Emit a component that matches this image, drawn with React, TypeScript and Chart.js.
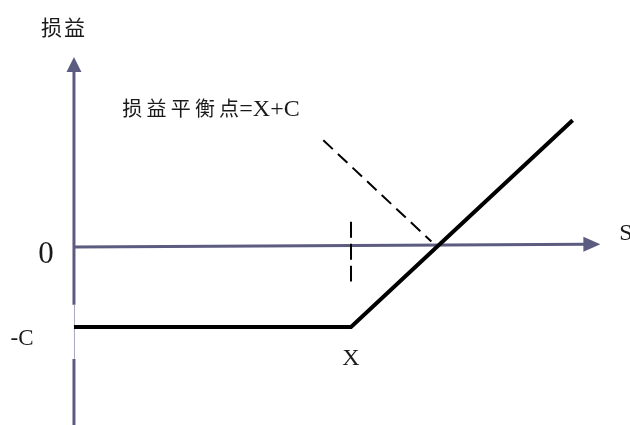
import React, { useEffect, useRef } from "react";
import { Chart, registerables } from "chart.js";

Chart.register(...registerables);

// ---- data (S = underlying price, PL = profit/loss) ----
const payoffS = [0, 100, 180];
const payoffPL = [-30, -30, 47.5];

const strikeMarkerS = [100, 100];
const strikeMarkerPL = [9.4, -13];

const pointerS = [90, 129];
const pointerPL = [40, 2];

const yTickValues = [0, -30];
const yTickLabels = ["0", "-C"];
const xTickValues = [100];
const xTickLabels = ["X"];

const xAxisTitle = "S";
const yAxisTitle = "损益";
const breakevenCJK = "损益平衡点";
const breakevenFormula = "=X+C";

// axis extents (data units)
const xAxisEnd = 190;
const yAxisTop = 71.2;
const yAxisGap = [-21.7, -42];

const AXIS_COLOR = "#5C5B80";
const TEXT_COLOR = "#1a1a1a";
const SERIF = "'Liberation Serif', 'Times New Roman', serif";
const CJK = "'Noto Sans CJK SC', sans-serif";

const toPts = (xs: number[], ys: number[]) => xs.map((x, i) => ({ x, y: ys[i] }));

const axesPlugin = {
  id: "payoffAxes",
  beforeDatasetsDraw(chart: any) {
    const { ctx, scales } = chart;
    const xs = scales.x;
    const ys = scales.y;
    const ox = xs.getPixelForValue(0);
    const oy = ys.getPixelForValue(0);
    const yTopPx = ys.getPixelForValue(yAxisTop);
    const yBotPx = ys.bottom;
    const xEndPx = xs.getPixelForValue(xAxisEnd);
    const xEndY = ys.getPixelForValue(1);
    const g1 = ys.getPixelForValue(yAxisGap[0]);
    const g2 = ys.getPixelForValue(yAxisGap[1]);
    ctx.save();
    ctx.strokeStyle = AXIS_COLOR;
    ctx.fillStyle = AXIS_COLOR;
    ctx.lineWidth = 3;
    ctx.lineCap = "butt";
    // y axis (with faint gap segment)
    ctx.beginPath();
    ctx.moveTo(ox, yTopPx + 14);
    ctx.lineTo(ox, g1);
    ctx.moveTo(ox, g2);
    ctx.lineTo(ox, yBotPx);
    ctx.stroke();
    ctx.save();
    ctx.strokeStyle = "#a9a9bd";
    ctx.lineWidth = 1;
    ctx.beginPath();
    ctx.moveTo(ox + 0.5, g1);
    ctx.lineTo(ox + 0.5, g2);
    ctx.stroke();
    ctx.restore();
    // y arrow
    ctx.beginPath();
    ctx.moveTo(ox, yTopPx);
    ctx.lineTo(ox - 7.5, yTopPx + 15);
    ctx.lineTo(ox + 7.5, yTopPx + 15);
    ctx.closePath();
    ctx.fill();
    // x axis
    ctx.beginPath();
    ctx.moveTo(ox, oy);
    ctx.lineTo(xEndPx - 14, xEndY + (oy - xEndY) * (14 / (xEndPx - ox)));
    ctx.stroke();
    // x arrow
    ctx.beginPath();
    ctx.moveTo(xEndPx, xEndY);
    ctx.lineTo(xEndPx - 17, xEndY - 7.5);
    ctx.lineTo(xEndPx - 17, xEndY + 7.5);
    ctx.closePath();
    ctx.fill();
    ctx.restore();
  },
  afterDatasetsDraw(chart: any) {
    const { ctx, scales } = chart;
    const xs = scales.x;
    const ys = scales.y;
    const ox = xs.getPixelForValue(0);
    ctx.save();
    ctx.fillStyle = TEXT_COLOR;
    ctx.textBaseline = "middle";
    // y tick labels
    yTickValues.forEach((v, i) => {
      const py = ys.getPixelForValue(v);
      const isZero = v === 0;
      ctx.font = `${isZero ? 31 : 23}px ${SERIF}`;
      ctx.textAlign = "center";
      ctx.fillText(yTickLabels[i], isZero ? ox - 28 : ox - 52, py + (isZero ? 8 : 12));
    });
    // x tick labels
    xTickValues.forEach((v, i) => {
      const px = xs.getPixelForValue(v);
      ctx.font = `24px ${SERIF}`;
      ctx.textAlign = "center";
      ctx.fillText(xTickLabels[i], px, ys.getPixelForValue(-30) + 32);
    });
    // x axis title
    ctx.font = `24px ${SERIF}`;
    ctx.textAlign = "left";
    ctx.fillText(xAxisTitle, xs.getPixelForValue(xAxisEnd) + 19, ys.getPixelForValue(0) - 13);
    // y axis title
    ctx.font = `21px ${CJK}`;
    ctx.textAlign = "left";
    const tY = ys.getPixelForValue(yAxisTop) - 30;
    Array.from(yAxisTitle).forEach((ch, i) => {
      ctx.fillText(ch, ox - 33 + i * 23, tY);
    });
    // breakeven annotation
    const ax = xs.getPixelForValue(pointerS[0]) - 201;
    const ay = ys.getPixelForValue(pointerPL[0]) - 32;
    ctx.font = `20px ${CJK}`;
    const chars = Array.from(breakevenCJK);
    chars.forEach((ch, i) => {
      ctx.fillText(ch, ax + i * 24.2, ay);
    });
    ctx.font = `24px ${SERIF}`;
    ctx.fillText(breakevenFormula, ax + chars.length * 24.2 - 4, ay + 1);
    ctx.restore();
  },
};

export default function App() {
  const ref = useRef<HTMLCanvasElement | null>(null);
  useEffect(() => {
    if (!ref.current) return;
    const chart = new Chart(ref.current, {
      type: "scatter",
      data: {
        datasets: [
          {
            data: toPts(payoffS, payoffPL),
            showLine: true,
            borderColor: "#000",
            borderWidth: 4,
            pointRadius: 0,
            borderJoinStyle: "miter",
          },
          {
            data: toPts(strikeMarkerS, strikeMarkerPL),
            showLine: true,
            borderColor: "#000",
            borderWidth: 2,
            borderDash: [16, 6],
            pointRadius: 0,
          },
          {
            data: toPts(pointerS, pointerPL),
            showLine: true,
            borderColor: "#000",
            borderWidth: 2,
            borderDash: [13, 7],
            pointRadius: 0,
          },
        ],
      },
      options: {
        animation: false,
        responsive: false,
        layout: { padding: 0 },
        plugins: { legend: { display: false }, tooltip: { enabled: false }, title: { display: false } },
        scales: {
          x: { type: "linear", min: -26.7, max: 200.7, display: false },
          y: { type: "linear", min: -66.8, max: 92.6, display: false },
        },
        events: [],
      },
      plugins: [axesPlugin],
    });
    return () => chart.destroy();
  }, []);
  return (
    <div style={{ position: "fixed", left: 0, top: 0, width: 630, height: 425, background: "#fff" }}>
      <canvas ref={ref} width={630} height={425} style={{ display: "block" }} />
    </div>
  );
}
